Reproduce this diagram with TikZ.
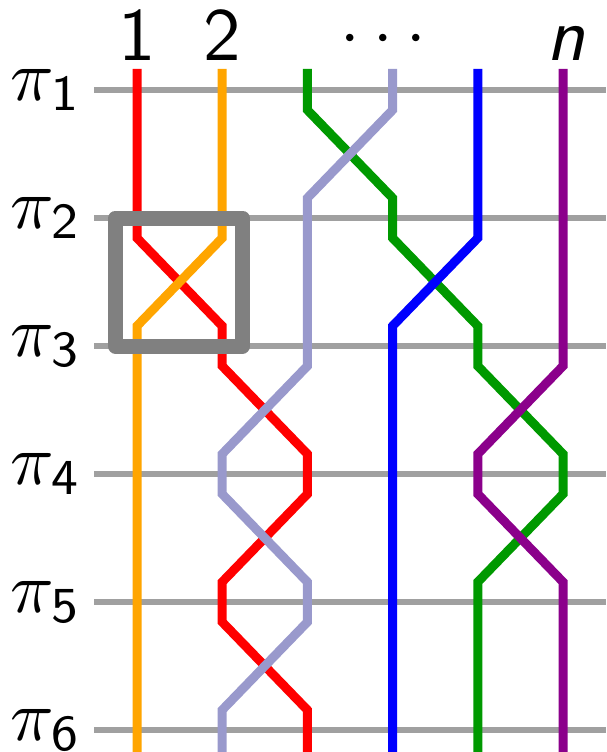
\documentclass[tikz,border=0pt]{standalone}
\usepackage{graphicx}
\definecolor{strRed}{RGB}{255,0,0}
\definecolor{strOrange}{RGB}{255,165,0}
\definecolor{strGreen}{RGB}{0,153,0}
\definecolor{strLav}{RGB}{153,153,204}
\definecolor{strBlue}{RGB}{0,0,255}
\definecolor{strPurple}{RGB}{139,0,139}
\definecolor{levelGray}{RGB}{160,160,160}
\definecolor{boxGray}{RGB}{128,128,128}
\newcommand{\bigtxt}[1]{\scalebox{7.5}{#1}}
\newcommand{\pitxt}[1]{\scalebox{7.2}{#1}}
\tikzset{
  levelline/.style={draw=levelGray, line width=5.3pt},
  strand/.style={line width=9pt},
  swapbox/.style={draw=boxGray, line width=15pt, line join=round},
  biglabel/.style={inner sep=0pt, font=\fontsize{10}{12}\selectfont},
}
\begin{document}
\begin{tikzpicture}[x=1pt,y=-1pt]
\useasboundingbox (0,0) rectangle (606,752);
% x positions
\def\pa{137}\def\pb{222.2}\def\pc{307.4}\def\pd{392.6}\def\pe{477.8}\def\pf{563}
% level lines
\foreach \y [count=\i] in {90,218,346,474,602,730}{
  \draw[levelline] (94,\y) -- (606,\y);
  \node[biglabel, anchor=base west] (pi\i) at (10,\y+10) {\pitxt{$\pi_{\mathsf{\i}}$}};
}
% top labels
\node[biglabel, anchor=base] (lab1) at (\pa,61) {\bigtxt{\sffamily 1}};
\node[biglabel, anchor=base] (lab2) at (\pb,61) {\bigtxt{\sffamily 2}};
\node[biglabel, anchor=base] (labdots) at (383,56) {\scalebox{7}{$\mathord{\cdot}\mkern3.5mu\mathord{\cdot}\mkern3.5mu\mathord{\cdot}$}};
\node[biglabel, anchor=base] (labn) at (566,61) {\bigtxt{\sffamily\itshape n}};
% strands (draw order gives over/under)
\draw[strand, strRed] (\pa,69) -- (\pa,238) -- (\pb,326) -- (\pb,366) -- (\pc,454) -- (\pc,494) -- (\pb,582) -- (\pb,622) -- (\pc,710) -- (\pc,752);
\draw[strand, strGreen] (\pc,69) -- (\pc,110) -- (\pd,198) -- (\pd,238) -- (\pe,326) -- (\pe,366) -- (\pf,454) -- (\pf,494) -- (\pe,582) -- (\pe,752);
\draw[strand, strOrange] (\pb,69) -- (\pb,238) -- (\pa,326) -- (\pa,752);
\draw[strand, strBlue] (\pe,69) -- (\pe,238) -- (\pd,326) -- (\pd,752);
\draw[strand, strPurple] (\pf,69) -- (\pf,366) -- (\pe,454) -- (\pe,494) -- (\pf,582) -- (\pf,752);
\draw[strand, strLav] (\pd,69) -- (\pd,110) -- (\pc,198) -- (\pc,366) -- (\pb,454) -- (\pb,494) -- (\pc,582) -- (\pc,622) -- (\pb,710) -- (\pb,752);
% highlight box
\draw[swapbox] (115.5,218) rectangle (242.5,346);
\end{tikzpicture}
\end{document}
